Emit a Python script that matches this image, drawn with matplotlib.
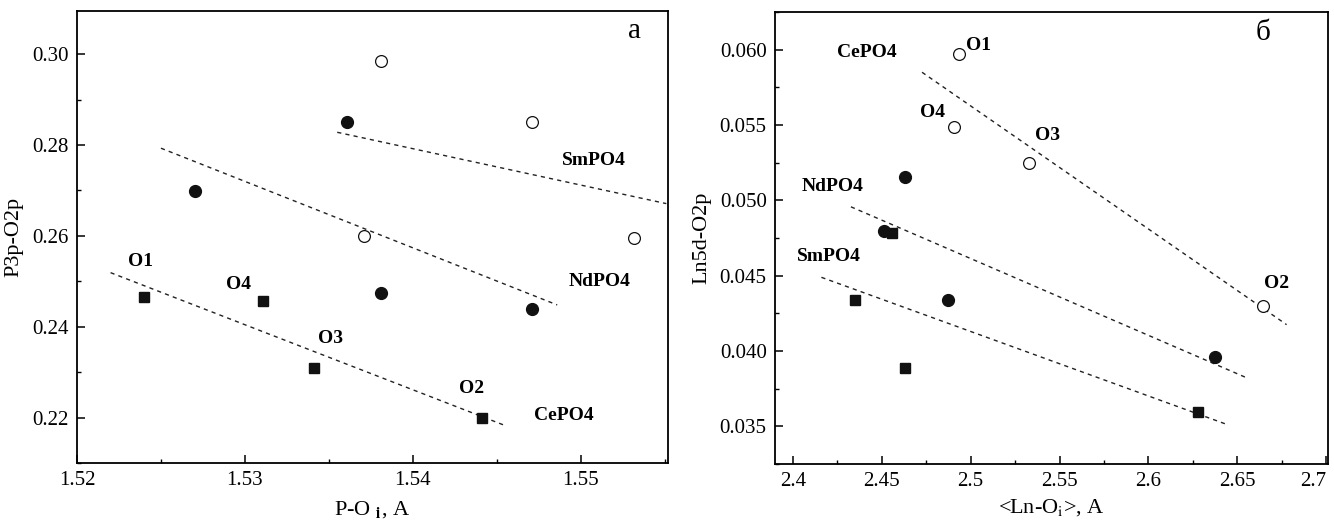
import matplotlib
matplotlib.use("Agg")
import matplotlib.pyplot as plt
from matplotlib.ticker import MultipleLocator

plt.rcParams['font.family'] = ['Liberation Serif', 'DejaVu Serif']
plt.rcParams['mathtext.fontset'] = 'stix'

# ---- Panel a data ----
a_ce_x = [1.5240, 1.5311, 1.5341, 1.5441]
a_ce_y = [0.2466, 0.2456, 0.2310, 0.2199]
a_nd_x = [1.5270, 1.5361, 1.5381, 1.5471]
a_nd_y = [0.2699, 0.2851, 0.2474, 0.2440]
a_sm_x = [1.5381, 1.5471, 1.5371, 1.5532]
a_sm_y = [0.2985, 0.2851, 0.2599, 0.2595]
a_ce_fit_x = [1.5220, 1.5456]
a_ce_fit_y = [0.2519, 0.2181]
a_nd_fit_x = [1.5250, 1.5486]
a_nd_fit_y = [0.2793, 0.2448]
a_sm_fit_x = [1.5355, 1.5551]
a_sm_fit_y = [0.2828, 0.2671]
a_labels = ["O1", "O4", "O3", "O2", "SmPO4", "NdPO4", "CePO4"]
a_label_x = [1.5238, 1.5296, 1.5351, 1.5435, 1.5508, 1.5511, 1.5490]
a_label_y = [0.2543, 0.2494, 0.2375, 0.2263, 0.2766, 0.2499, 0.2204]
a_xticks = [1.52, 1.53, 1.54, 1.55]
a_yticks = [0.22, 0.24, 0.26, 0.28, 0.30]

# ---- Panel b data ----
b_ce_x = [2.4936, 2.4905, 2.5327, 2.6642]
b_ce_y = [0.05973, 0.05489, 0.05251, 0.04298]
b_nd_x = [2.4630, 2.4512, 2.4872, 2.6377]
b_nd_y = [0.05157, 0.04798, 0.04339, 0.03960]
b_sm_x = [2.4557, 2.4351, 2.4630, 2.6280]
b_sm_y = [0.04780, 0.04341, 0.03888, 0.03592]
b_ce_fit_x = [2.4727, 2.6777]
b_ce_fit_y = [0.05850, 0.04175]
b_nd_fit_x = [2.4327, 2.6547]
b_nd_fit_y = [0.04957, 0.03825]
b_sm_fit_x = [2.4161, 2.6445]
b_sm_fit_y = [0.04489, 0.03511]
b_labels = ["CePO4", "O1", "O4", "O3", "NdPO4", "SmPO4", "O2"]
b_label_x = [2.4419, 2.5043, 2.4787, 2.5434, 2.4225, 2.4201, 2.6720]
b_label_y = [0.05984, 0.06030, 0.05580, 0.05430, 0.05090, 0.04630, 0.04450]
b_xticks = [2.4, 2.45, 2.5, 2.55, 2.6, 2.65, 2.7]
b_xticklabels = ["2.4", "2.45", "2.5", "2.55", "2.6", "2.65", "2.7"]
b_yticks = [0.035, 0.040, 0.045, 0.050, 0.055, 0.060]

fig = plt.figure(figsize=(13.34, 5.29), dpi=100)
ax1 = fig.add_axes([77/1334, 1-463/529, (668-77)/1334, (463-11)/529])
ax2 = fig.add_axes([775/1334, 1-464/529, (1328-775)/1334, (464-12)/529])

def style(ax):
    for s in ax.spines.values():
        s.set_linewidth(1.3)
    ax.tick_params(which='major', direction='in', length=6, width=1.1,
                   labelsize=15, top=False, right=False, pad=6)
    ax.tick_params(which='minor', direction='in', length=3.2, width=1.0,
                   top=False, right=False)

lkw = dict(ls=(0, (3, 3)), color='#222222', lw=1.0)

# Panel a
ax1.plot(a_ce_fit_x, a_ce_fit_y, **lkw)
ax1.plot(a_nd_fit_x, a_nd_fit_y, **lkw)
ax1.plot(a_sm_fit_x, a_sm_fit_y, **lkw)
ax1.plot(a_ce_x, a_ce_y, 's', color='#111111', ms=7, ls='none')
ax1.plot(a_nd_x, a_nd_y, 'o', color='#111111', ms=8.5, ls='none')
ax1.plot(a_sm_x, a_sm_y, 'o', mfc='white', mec='#111111', mew=0.9, ms=8.5, ls='none')
for t, x, y in zip(a_labels, a_label_x, a_label_y):
    ax1.text(x, y, t, ha='center', va='center', fontsize=14, fontweight='bold')
ax1.text(1.5532, 0.3050, "а", ha='center', va='center', fontsize=21)
ax1.set_xlim(1.52, 1.5552)
ax1.set_ylim(0.2100, 0.3095)
ax1.set_xticks(a_xticks)
ax1.set_xticklabels([f"{v:.2f}" for v in a_xticks])
ax1.set_yticks(a_yticks)
ax1.set_yticklabels([f"{v:.2f}" for v in a_yticks])
ax1.xaxis.set_minor_locator(MultipleLocator(0.005))
ax1.yaxis.set_minor_locator(MultipleLocator(0.01))
ax1.set_xlabel(r"P-O $_{\mathbf{i}}$, A", fontsize=16, labelpad=6)
ax1.set_ylabel("P3p-O2p", fontsize=16, labelpad=6)
style(ax1)

# Panel b
ax2.plot(b_ce_fit_x, b_ce_fit_y, **lkw)
ax2.plot(b_nd_fit_x, b_nd_fit_y, **lkw)
ax2.plot(b_sm_fit_x, b_sm_fit_y, **lkw)
ax2.plot(b_sm_x, b_sm_y, 's', color='#111111', ms=7, ls='none')
ax2.plot(b_nd_x, b_nd_y, 'o', color='#111111', ms=8.5, ls='none')
ax2.plot(b_ce_x, b_ce_y, 'o', mfc='white', mec='#111111', mew=0.9, ms=8.5, ls='none')
for t, x, y in zip(b_labels, b_label_x, b_label_y):
    ax2.text(x, y, t, ha='center', va='center', fontsize=14, fontweight='bold')
ax2.text(2.6642, 0.0611, "б", ha='center', va='center', fontsize=21)
ax2.set_xlim(2.390, 2.7010)
ax2.set_ylim(0.0325, 0.0625)
ax2.set_xticks(b_xticks)
ax2.set_xticklabels(b_xticklabels)
ax2.get_xticklabels()[-1].set_horizontalalignment('right')
ax2.set_yticks(b_yticks)
ax2.set_yticklabels([f"{v:.3f}" for v in b_yticks])
ax2.xaxis.set_minor_locator(MultipleLocator(0.025))
ax2.yaxis.set_minor_locator(MultipleLocator(0.0025))
ax2.set_xlabel(r"<Ln-O$_{\mathrm{i}}$>, A", fontsize=16, labelpad=4)
ax2.set_ylabel("Ln5d-O2p", fontsize=16, labelpad=6)
style(ax2)

fig.savefig("out.png", dpi=100)
